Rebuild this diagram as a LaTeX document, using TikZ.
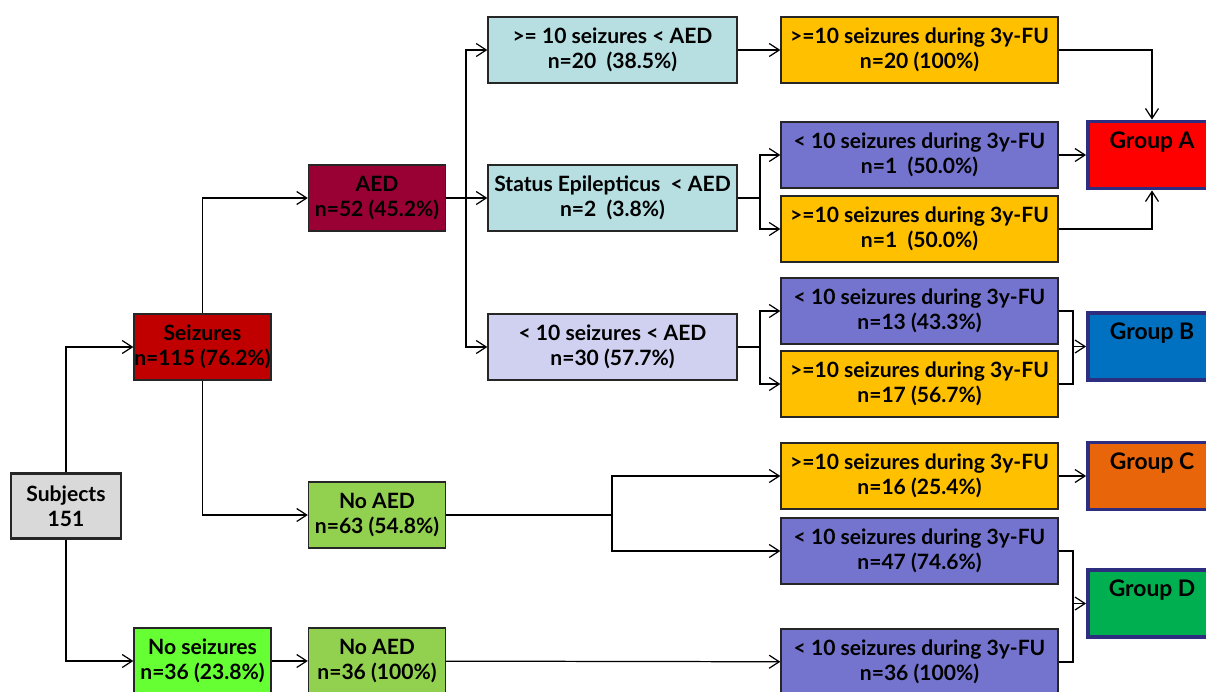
\documentclass[tikz,border=0pt]{standalone}
\usepackage{fontspec}
\setmainfont{Lato}
\usepackage{xcolor}
\usetikzlibrary{arrows.meta}

\definecolor{subjgray}{HTML}{D9D9D9}
\definecolor{seizred}{HTML}{C00000}
\definecolor{noseizgreen}{HTML}{66FF33}
\definecolor{aedcrimson}{HTML}{990033}
\definecolor{noaedgreen}{HTML}{92D050}
\definecolor{lightteal}{HTML}{B7DFE2}
\definecolor{lavender}{HTML}{D0D0F0}
\definecolor{fuorange}{HTML}{FFC000}
\definecolor{fupurple}{HTML}{7474CF}
\definecolor{grpred}{HTML}{FF0000}
\definecolor{grpblue}{HTML}{0070C0}
\definecolor{grporange}{HTML}{E8650A}
\definecolor{grpgreen}{HTML}{00B050}
\definecolor{grpborder}{HTML}{2E2E80}

\begin{document}
\begin{tikzpicture}[x=0.02cm, y=-0.02cm, font=\fontsize{12}{14.4}\selectfont\bfseries]
	\tikzstyle{box} = [draw=black!85, line width=0.8pt, align=center, inner sep=0pt, minimum height=1.32cm]
	\tikzstyle{small} = [box, minimum width=2.74cm]
	\tikzstyle{mid} = [box, minimum width=4.98cm]
	\tikzstyle{fu} = [box, minimum width=5.54cm]
	\tikzstyle{grp} = [draw=grpborder, line width=2.2pt, minimum width=2.56cm, minimum height=1.34cm]
	\tikzstyle{grplbl} = [anchor=north, yshift=-0.12cm, font=\fontsize{13}{15}\selectfont\bfseries]
	\tikzstyle{arr} = [draw=black, line width=0.7pt, -{Straight Barb[length=2mm, width=2.6mm]}]
	\tikzstyle{edge} = [draw=black, line width=0.7pt]
	\useasboundingbox (0,0) rectangle (1206,691);
		\node[box, minimum width=2.2cm, minimum height=1.3cm, fill=subjgray, line width=1.6pt] (subj) at (66,506) {Subjects\\151};
		\node[small, fill=seizred] (seiz) at (202.5,347) {Seizures\\n=115 (76.2\%)};
		\node[small, fill=noseizgreen] (noseiz) at (202.5,661) {No seizures\\n=36 (23.8\%)};
		\node[small, fill=aedcrimson] (aed) at (377,198) {AED\\n=52 (45.2\%)};
		\node[small, fill=noaedgreen] (noaedA) at (377,515) {No AED\\n=63 (54.8\%)};
		\node[small, fill=noaedgreen] (noaedB) at (377,661) {No AED\\n=36 (100\%)};
		\node[mid, fill=lightteal] (ge10) at (612.5,50) {>= 10 seizures < AED\\n=20~ (38.5\%)};
		\node[mid, fill=lightteal] (status) at (612.5,198) {Status Epilepticus~ < AED\\n=2~ (3.8\%)};
		\node[mid, fill=lavender] (lt10) at (612.5,347) {< 10 seizures < AED\\n=30 (57.7\%)};
		\node[fu, fill=fuorange] (fuA) at (919.5,50) {>=10 seizures during 3y-FU\\n=20 (100\%)};
		\node[fu, fill=fupurple] (fuB) at (919.5,155) {< 10 seizures during 3y-FU\\n=1~ (50.0\%)};
		\node[fu, fill=fuorange] (fuC) at (919.5,229) {>=10 seizures during 3y-FU\\n=1~ (50.0\%)};
		\node[fu, fill=fupurple] (fuD) at (919.5,311) {< 10 seizures during 3y-FU\\n=13 (43.3\%)};
		\node[fu, fill=fuorange] (fuE) at (919.5,384) {>=10 seizures during 3y-FU\\n=17 (56.7\%)};
		\node[fu, fill=fuorange] (fuF) at (919.5,476) {>=10 seizures during 3y-FU\\n=16 (25.4\%)};
		\node[fu, fill=fupurple] (fuG) at (919.5,551) {< 10 seizures during 3y-FU\\n=47 (74.6\%)};
		\node[fu, fill=fupurple] (fuH) at (919.5,662) {< 10 seizures during 3y-FU\\n=36 (100\%)};
		\node[grp, fill=grpred, label={[grplbl]north:Group A}] (grpA) at (1152,155) {};
		\node[grp, fill=grpblue, label={[grplbl]north:Group B}] (grpB) at (1152,346.5) {};
		\node[grp, fill=grporange, label={[grplbl]north:Group C}] (grpC) at (1152,476) {};
		\node[grp, fill=grpgreen, label={[grplbl]north:Group D}] (grpD) at (1152,603.5) {};
		\coordinate (sp1) at (466,198);
		\coordinate (sp2) at (760,198);
		\coordinate (sp3) at (760,347);
		\coordinate (sp4) at (612,515);
		\coordinate (jB) at (1073,346.5);
		\coordinate (jD) at (1073,603.5);
	\draw[arr] (subj.north) |- (seiz.west);
	\draw[arr] (subj.south) |- (noseiz.west);
	\draw[arr] (seiz.north) |- (aed.west);
	\draw[arr] (seiz.south) |- (noaedA.west);
	\draw[arr] (noseiz) -- (noaedB);
	\draw[edge] (aed.east) -- (sp1);
	\draw[arr] (sp1) |- (ge10.west);
	\draw[arr] (sp1) -- (status.west);
	\draw[arr] (sp1) |- (lt10.west);
	\draw[arr] (ge10) -- (fuA);
	\draw[edge] (status.east) -- (sp2);
	\draw[arr] (sp2) |- (fuB.west);
	\draw[arr] (sp2) |- (fuC.west);
	\draw[edge] (lt10.east) -- (sp3);
	\draw[arr] (sp3) |- (fuD.west);
	\draw[arr] (sp3) |- (fuE.west);
	\draw[arr] (fuA.east) -| (grpA.north);
	\draw[arr] (fuB) -- (grpA);
	\draw[arr] (fuC.east) -| (grpA.south);
	\draw[edge] (fuD.east) -| (jB) |- (fuE.east);
	\draw[arr] (jB) -- (grpB.west);
	\draw[edge] (noaedA.east) -- (sp4);
	\draw[arr] (sp4) |- (fuF.west);
	\draw[arr] (sp4) |- (fuG.west);
	\draw[arr] (fuF) -- (grpC);
	\draw[edge] (fuG.east) -| (jD) |- (fuH.east);
	\draw[arr] (jD) -- (grpD.west);
	\draw[arr] (noaedB) -- (fuH);
\end{tikzpicture}
\end{document}
